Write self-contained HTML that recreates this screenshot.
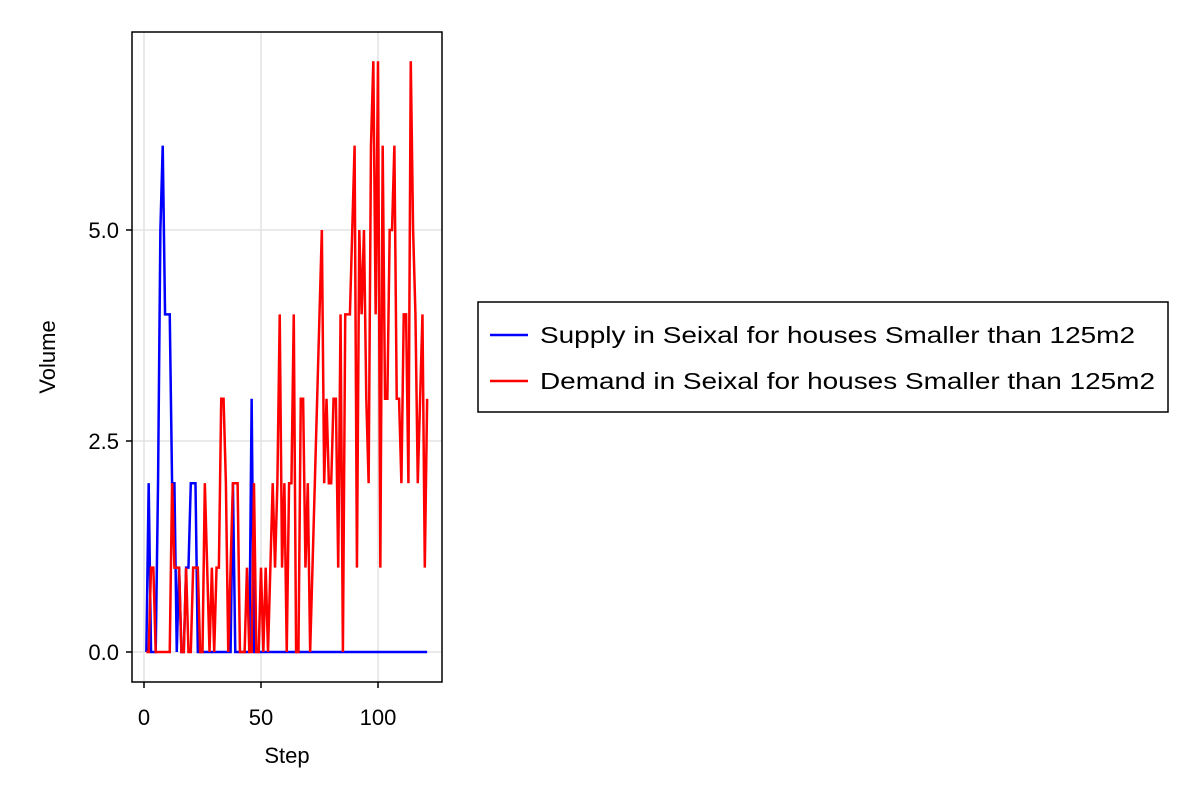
<!DOCTYPE html>
<html><head><meta charset="utf-8"><style>
body{margin:0;background:#fff;}
svg text{font-family:"Liberation Sans",sans-serif;fill:#000;}
</style></head><body>
<svg id="chart" width="1200" height="800" xmlns="http://www.w3.org/2000/svg">
<rect width="1200" height="800" fill="#fff"/>
<g id="grid"></g>
<g id="series"></g>
<rect x="132" y="32" width="310" height="650" fill="none" stroke="#000" stroke-width="1.5"/>
<g id="axes"></g>
<text x="287" y="763" font-size="22" text-anchor="middle">Step</text>
<text x="0" y="0" font-size="22" text-anchor="middle" transform="translate(55,357) rotate(-90)">Volume</text>
<g>
<rect x="478" y="302" width="690" height="110" fill="#fff" stroke="#000" stroke-width="1.5"/>
<g>
<line x1="490" y1="335" x2="528" y2="335" stroke="#0000ff" stroke-width="2.5"/>
<text x="540" y="343" font-size="23" textLength="595" lengthAdjust="spacingAndGlyphs">Supply in Seixal for houses Smaller than 125m2</text></g>
<g>
<line x1="490" y1="381" x2="528" y2="381" stroke="#ff0000" stroke-width="2.5"/>
<text x="540" y="389" font-size="23" textLength="615" lengthAdjust="spacingAndGlyphs">Demand in Seixal for houses Smaller than 125m2</text></g>
</g>
</svg>
<script>
const xTicks=[0,50,100];
const xTickLabels=["0","50","100"];
const yTicks=[0,2.5,5];
const yTickLabels=["0.0","2.5","5.0"];
const supply=[0,2,0,0,0,2,5,6,4,4,4,2,2,0,1,0,0,1,1,2,2,2,0,0,0,0,0,0,0,0,0,0,0,0,0,0,0,2,0,0,0,0,0,0,0,3,0,0,0,0,0,0,0,0,0,0,0,0,0,0,0,0,0,0,0,0,0,0,0,0,0,0,0,0,0,0,0,0,0,0,0,0,0,0,0,0,0,0,0,0,0,0,0,0,0,0,0,0,0,0,0,0,0,0,0,0,0,0,0,0,0,0,0,0,0,0,0,0,0,0,0];
const demand=[0,0,1,1,0,0,0,0,0,0,0,2,1,1,1,0,0,1,0,0,1,1,1,0,0,2,1,0,1,0,1,1,3,3,2,0,1,2,2,2,0,0,0,1,0,0,2,0,0,1,0,1,0,1,2,1,2,4,1,2,0,2,2,4,0,0,3,3,1,2,0,1,2,3,4,5,2,3,2,2,3,3,1,4,0,4,4,4,5,6,1,5,4,5,3,2,6,7,4,7,1,6,3,3,5,5,6,3,3,2,4,4,2,7,5,4,2,3,4,1,3];
const X=v=>144+v*2.34, Y=v=>652-v*84.4;
const NS="http://www.w3.org/2000/svg";
const grid=document.getElementById('grid'),axes=document.getElementById('axes'),ser=document.getElementById('series');
function mk(tag,attrs,parent){const e=document.createElementNS(NS,tag);for(const k in attrs)e.setAttribute(k,attrs[k]);parent.appendChild(e);return e;}
xTicks.forEach((t,i)=>{
 const g=mk('line',{x1:X(t),x2:X(t),y1:32,y2:682,stroke:'#e3e3e3','stroke-width':1.5},grid);
 
 
 const tk=mk('line',{x1:X(t),x2:X(t),y1:682,y2:688,stroke:'#000','stroke-width':1.5},axes);
 
 
 const tx=mk('text',{x:X(t),y:725,'font-size':22,'text-anchor':'middle'},axes);
 tx.textContent=xTickLabels[i];
 
 
});
yTicks.forEach((t,i)=>{
 const g=mk('line',{x1:132,x2:442,y1:Y(t),y2:Y(t),stroke:'#e3e3e3','stroke-width':1.5},grid);
 
 
 const tk=mk('line',{x1:126,x2:132,y1:Y(t),y2:Y(t),stroke:'#000','stroke-width':1.5},axes);
 
 
 const tx=mk('text',{x:119,y:Y(t)+8,'font-size':22,'text-anchor':'end'},axes);
 tx.textContent=yTickLabels[i];
 
 
});
function line(data,color,name){
 const p=mk('polyline',{points:data.map((v,i)=>X(i+1)+','+Y(v)).join(' '),fill:'none',stroke:color,'stroke-width':2.5,'stroke-linejoin':'miter'},ser);
 
 
}
line(supply,'#0000ff','supply-line');
line(demand,'#ff0000','demand-line');
</script>
</body></html>
